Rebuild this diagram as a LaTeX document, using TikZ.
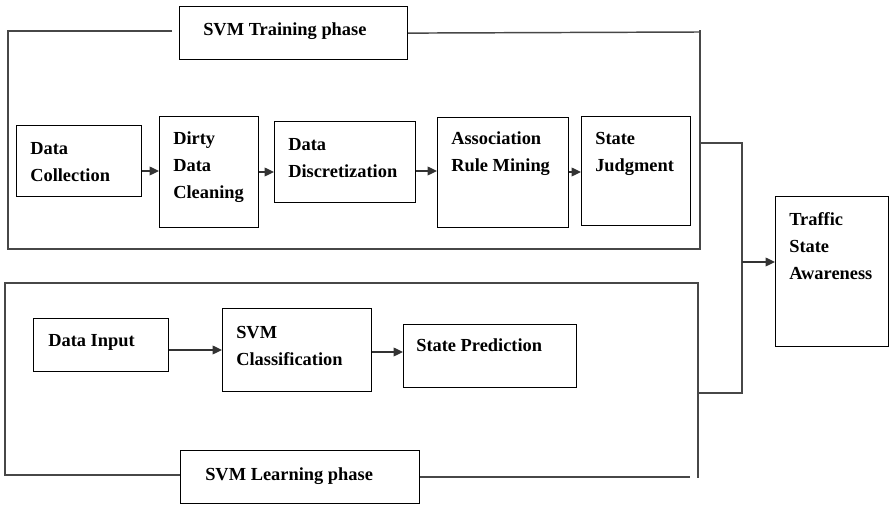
\documentclass[tikz,border=0pt]{standalone}
\usepackage{fontspec}
\setmainfont{Liberation Serif}
\usetikzlibrary{arrows.meta}
\begin{document}
\begin{tikzpicture}[x=0.75pt,y=-0.75pt,
  box/.style 2 args={draw=black, line width=0.9pt, anchor=north west, inner sep=0pt,
     minimum width=#1*0.75pt, minimum height=#2*0.75pt},
  frame/.style={draw=black!72, line width=1.1pt},
  lbl/.style={anchor=base west, inner sep=0pt, align=left,
     font=\bfseries\fontsize{13.8}{20.25}\selectfont},
  arr/.style={draw=black!80, line width=1pt, -{Triangle[length=7pt,width=6.5pt]}}]
\useasboundingbox (0,0) rectangle (889,505);

% boxes
\node[box={228}{53}] (title1) at (179,6) {};
\node[box={125}{71}] (dc) at (16,125) {};
\node[box={99}{111}] (ddc) at (159,116) {};
\node[box={141}{81}] (dd) at (274,121) {};
\node[box={131}{110}] (arm) at (437,117) {};
\node[box={109}{109}] (sj) at (581,116) {};
\node[box={113}{150}] (tsa) at (775,196) {};
\node[box={135}{53}] (di) at (33,318) {};
\node[box={149}{83}] (svmc) at (222,308) {};
\node[box={173}{63}] (sp) at (403,324) {};
\node[box={239}{53}] (title2) at (180,450) {};

% labels (anchored at the baseline of their last line)
\node[lbl] (ttitle1) at (203,36) {SVM Training phase};
\node[lbl] (tdc) at (30,182) {Data\\Collection};
\node[lbl] (tddc) at (173,199) {Dirty\\Data\\Cleaning};
\node[lbl] (tdd) at (288,178) {Data\\Discretization};
\node[lbl] (tarm) at (451,172) {Association\\Rule Mining};
\node[lbl] (tsj) at (595,172) {State\\Judgment};
\node[lbl] (ttsa) at (789,280) {Traffic\\State\\Awareness};
\node[lbl] (tdi) at (48,347) {Data Input};
\node[lbl] (tsvmc) at (236,366) {SVM\\Classification};
\node[lbl] (tsp) at (416,352) {State Prediction};
\node[lbl] (ttitle2) at (205,481) {SVM Learning phase};

% frames
\draw[frame] (172,31) -- (8,31) -- (8,249) -- (700,249) -- (700,30);
\draw[frame] (title1.east) -- (700,32);
\draw[frame] (title2.west |- 0,475) -- (5,475) -- (5,283) -- (698,283) -- (698,478);
\draw[frame] (title2.east |- 0,477) -- (690,477);

% join to Traffic State Awareness
\coordinate (jt) at (700,143);
\coordinate (jb) at (698,393);
\coordinate (jm) at (742,262);
\draw[frame] (jt) -- (742,143) -- (742,393) -- (jb);
\draw[arr] (jm) -- (tsa.west |- jm);

% arrows
\draw[arr] (dc.east |- 0,171) -- (ddc.west |- 0,171);
\draw[arr] (ddc.east |- 0,172) -- (dd.west |- 0,172);
\draw[arr] (dd.east |- 0,171) -- (arm.west |- 0,171);
\draw[arr] (arm.east |- 0,172) -- (sj.west |- 0,172);
\draw[arr] (di.east |- 0,350) -- (svmc.west |- 0,350);
\draw[arr] (svmc.east |- 0,352) -- (sp.west |- 0,352);
\end{tikzpicture}
\end{document}
